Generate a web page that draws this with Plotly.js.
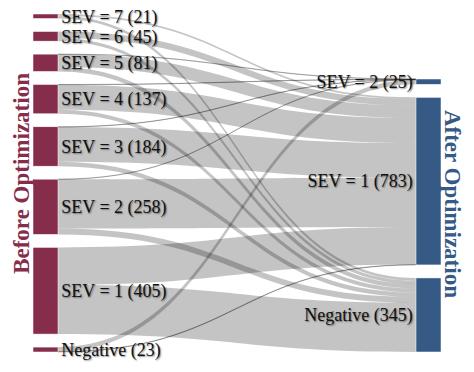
<!DOCTYPE html>
<html>
<head>
<meta charset="utf-8">
<script src="https://cdn.plot.ly/plotly-3.0.1.min.js"></script>
<style>
  html, body { margin: 0; padding: 0; background: #fff; }
  #sankey { width: 474px; height: 372px; }
  /* sankey node labels: serif with a soft dark shadow */
  #sankey text.node-label {
    font-family: 'Liberation Serif', serif !important;
    font-size: 18px !important;
    fill: #111 !important;
    text-shadow: 1px 1px 1.5px rgba(0,0,0,0.45) !important;
  }
</style>
</head>
<body>
<div id="sankey"></div>
<script>
// left column (before) and right column (after)
var beforeLabels = ['SEV = 7 (21)', 'SEV = 6 (45)', 'SEV = 5 (81)', 'SEV = 4 (137)',
                    'SEV = 3 (184)', 'SEV = 2 (258)', 'SEV = 1 (405)', 'Negative (23)'];
var afterLabels = ['SEV = 2 (25)', 'SEV = 1 (783)', 'Negative (345)'];

// flows out of each "before" node
var toSev2 = [0, 0, 1, 1, 1, 1, 0, 21];
var toSev1 = [8, 30, 59, 117, 162, 230, 175, 2];
var toNeg  = [13, 15, 21, 19, 21, 27, 230, 0];

var beforeColor = '#862d4b';
var afterColor = '#355a86';

var W = 474, H = 372;
var margin = {l: 33, r: 33, t: 14, b: 20};
var pad = 13, thick = 25;

function buildLinks() {
    var src = [], tgt = [], val = [];
    var cols = [toSev2, toSev1, toNeg];
    for (var i = 0; i < beforeLabels.length; i++) {
        for (var j = 0; j < cols.length; j++) {
            if (cols[j][i] > 0) {
                src.push(i);
                tgt.push(beforeLabels.length + j);
                val.push(cols[j][i]);
            }
        }
    }
    return {source: src, target: tgt, value: val};
}

// keep nodes in the given order: left column stacked from the top,
// right column stacked from the bottom (same scale plotly uses)
function nodePositions() {
    var h = H - margin.t - margin.b;
    var w = W - margin.l - margin.r;
    var before = beforeLabels.map(function(_, i) { return toSev2[i] + toSev1[i] + toNeg[i]; });
    var sum = function(a) { return a.reduce(function(s, v) { return s + v; }, 0); };
    var after = [sum(toSev2), sum(toSev1), sum(toNeg)];
    var ky = Math.min((h - (before.length - 1) * pad) / sum(before),
                      (h - (after.length - 1) * pad) / sum(after));
    var xs = [], ys = [];
    var y = 0;
    before.forEach(function(v) {
        xs.push((thick / 2) / w);
        ys.push((y + v * ky / 2) / h);
        y += v * ky + pad;
    });
    y = h - (sum(after) * ky + (after.length - 1) * pad);
    after.forEach(function(v) {
        xs.push((w - thick / 2) / w);
        ys.push((y + v * ky / 2) / h);
        y += v * ky + pad;
    });
    return {x: xs, y: ys};
}

var links = buildLinks();
var pos = nodePositions();
var nodeColors = beforeLabels.map(function() { return beforeColor; })
    .concat(afterLabels.map(function() { return afterColor; }));

var trace = {
    type: 'sankey',
    orientation: 'h',
    arrangement: 'fixed',
    node: {
        label: beforeLabels.concat(afterLabels),
        color: nodeColors,
        x: pos.x,
        y: pos.y,
        pad: pad,
        thickness: thick,
        line: {color: 'white', width: 0.5}
    },
    link: {
        source: links.source,
        target: links.target,
        value: links.value,
        color: 'rgba(0,0,0,0.23)'
    },
    textfont: {
        family: 'Liberation Serif',
        size: 18,
        color: '#111'
    }
};

var layout = {
    width: W,
    height: H,
    margin: margin,
    paper_bgcolor: 'white',
    font: {family: 'Liberation Serif'},
    annotations: [
        {
            text: '<b>Before Optimization</b>',
            xref: 'paper', yref: 'paper',
            x: -0.027, y: 0.53,
            xanchor: 'center', yanchor: 'middle',
            textangle: -90,
            showarrow: false,
            font: {family: 'Liberation Serif', size: 23, color: beforeColor}
        },
        {
            text: '<b>After Optimization</b>',
            xref: 'paper', yref: 'paper',
            x: 1.027, y: 0.438,
            xanchor: 'center', yanchor: 'middle',
            textangle: 90,
            showarrow: false,
            font: {family: 'Liberation Serif', size: 23, color: afterColor}
        }
    ]
};

Plotly.newPlot('sankey', [trace], layout, {displayModeBar: false, staticPlot: true});
</script>
</body>
</html>
